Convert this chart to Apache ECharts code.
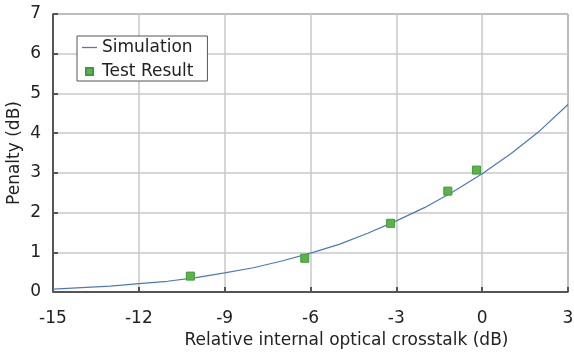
<!DOCTYPE html>
<html><head><meta charset="utf-8">
<script src="https://cdn.jsdelivr.net/npm/echarts@6/dist/echarts.min.js"></script>
<style>html,body{margin:0;padding:0;background:#fff}#c{width:574px;height:354px}</style>
</head><body><div id="c"></div>
<script>
const simX = [-15,-14,-13,-12,-11,-10,-9,-8,-7,-6,-5,-4,-3,-2,-1,0,1,2,3];
const simY = [0.07,0.11,0.15,0.21,0.27,0.36,0.48,0.61,0.78,0.98,1.2,1.48,1.79,2.13,2.53,2.98,3.48,4.05,4.72];
const testX = [-10.2,-6.2,-3.2,-1.2,-0.2];
const testY = [0.40,0.85,1.73,2.54,3.07];
const xTicks = [-15,-12,-9,-6,-3,0,3];
const yTicks = [0,1,2,3,4,5,6,7];

const font = 'DejaVu Sans, sans-serif';
const fs = 17;
const chart = echarts.init(document.getElementById('c'), null, {renderer:'canvas'});
chart.setOption({
  animation:false,
  grid:{left:53,right:6,top:14,bottom:62,show:true,borderColor:'#444',borderWidth:1,
        containLabel:false,outerBoundsMode:'none'},
  legend:{
    orient:'vertical', left:77, top:36,
    backgroundColor:'#fff', borderColor:'#555', borderWidth:1,
    padding:[2,14,0,5], itemGap:5, itemWidth:15, itemHeight:7,
    textStyle:{fontFamily:font,fontSize:fs,color:'#222',lineHeight:19},
    data:[{name:'Simulation',icon:'path://M0,0H15V1.3H0Z'},{name:'Test Result',icon:'path://M0,0H1V1H0Z'}]
  },
  xAxis:{
    type:'value', min:xTicks[0], max:xTicks[xTicks.length-1], interval:3,
    name:'Relative internal optical crosstalk (dB)', nameLocation:'middle', nameGap:39,
    nameTextStyle:{fontFamily:font,fontSize:fs,color:'#222',padding:[0,0,0,72]},
    axisLine:{show:true,onZero:false,lineStyle:{color:'#333',width:1.5}},
    axisTick:{show:true,inside:true,length:5,lineStyle:{color:'#555',width:2}},
    axisLabel:{fontFamily:font,fontSize:fs,color:'#222',margin:18},
    splitLine:{show:true,lineStyle:{color:'#c8c8c8',width:1.5}}
  },
  yAxis:{
    type:'value', min:yTicks[0], max:yTicks[yTicks.length-1], interval:1,
    name:'Penalty (dB)', nameLocation:'middle', nameGap:30, nameMoveOverlap:false,
    nameTextStyle:{fontFamily:font,fontSize:fs,color:'#222'},
    axisLine:{show:true,onZero:false,lineStyle:{color:'#333',width:1.5}},
    axisTick:{show:true,inside:true,length:5,lineStyle:{color:'#555',width:2}},
    axisLabel:{fontFamily:font,fontSize:fs,color:'#222',margin:12},
    splitLine:{show:true,lineStyle:{color:'#c8c8c8',width:1.5}}
  },
  series:[
    {name:'Simulation',type:'line',symbol:'none',smooth:false,
     data:simX.map((x,i)=>[x,simY[i]]),
     lineStyle:{color:'#4a78c4',width:1.2},itemStyle:{color:'#4a78c4'},z:3},
    {name:'Test Result',type:'scatter',symbol:'rect',symbolSize:8,
     data:testX.map((x,i)=>[x,testY[i]]),
     itemStyle:{color:'#5cb346',borderColor:'#3e9a3c',borderWidth:1,opacity:1},z:4}
  ]
});
</script></body></html>
